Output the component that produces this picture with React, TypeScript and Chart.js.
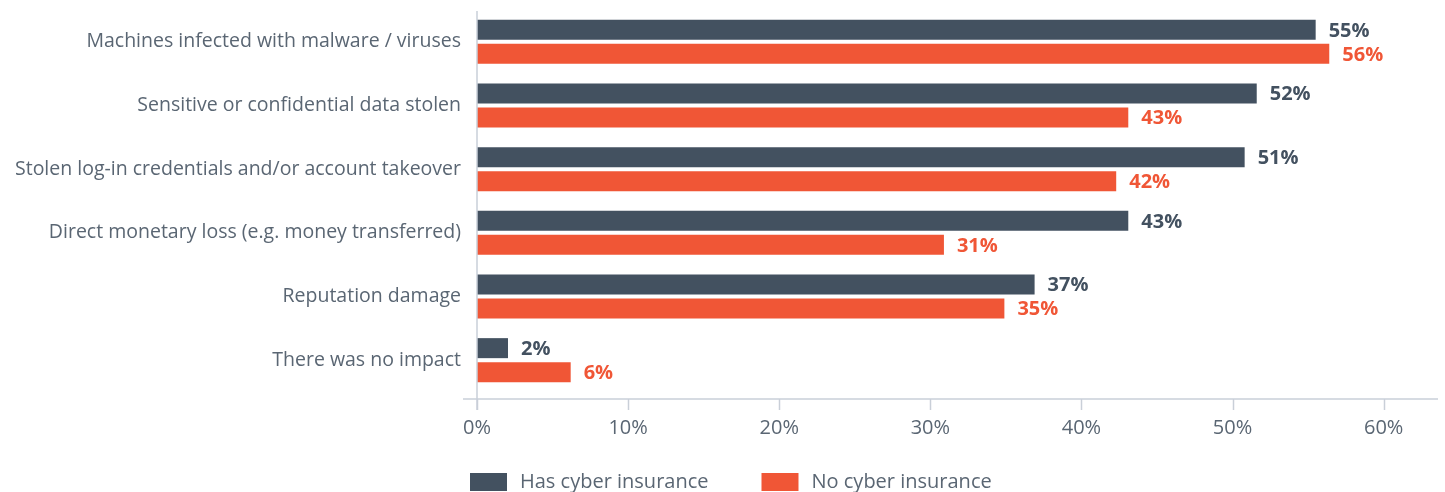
import React, { useEffect, useRef } from "react";
import { Chart, registerables } from "chart.js";

Chart.register(...registerables);

const categories = [
  "Machines infected with malware / viruses",
  "Sensitive or confidential data stolen",
  "Stolen log-in credentials and/or account takeover",
  "Direct monetary loss (e.g. money transferred)",
  "Reputation damage",
  "There was no impact",
];
const seriesNames = ["Has cyber insurance", "No cyber insurance"];
const hasInsurance = [55.5, 51.6, 50.8, 43.1, 36.9, 2.05];
const noInsurance = [56.4, 43.1, 42.3, 30.9, 34.9, 6.2];
const hasLabels = ["55%", "52%", "51%", "43%", "37%", "2%"];
const noLabels = ["56%", "43%", "42%", "31%", "35%", "6%"];
const xTicks = [0, 10, 20, 30, 40, 50, 60];

const DARK = "#435160";
const ORANGE = "#f05636";
const TEXT = "#5a6673";
const AXIS = "#c9cfd8";
const FONT = "'Open Sans', sans-serif";

const axesPlugin = {
  id: "customAxes",
  afterDraw(chart: any) {
    const { ctx, chartArea } = chart;
    const x = chart.scales.x;
    const axisY = chartArea.bottom + 7;
    ctx.save();
    ctx.strokeStyle = AXIS;
    ctx.lineWidth = 1.5;
    ctx.beginPath();
    ctx.moveTo(chartArea.left - 14, axisY);
    ctx.lineTo(chartArea.right + 9, axisY);
    ctx.stroke();
    ctx.beginPath();
    ctx.moveTo(chartArea.left, chartArea.top + 1);
    ctx.lineTo(chartArea.left, axisY + 11);
    ctx.stroke();
    xTicks.forEach((v) => {
      const px = Math.round(x.getPixelForValue(v)) + 0.5;
      ctx.beginPath();
      ctx.moveTo(px, axisY);
      ctx.lineTo(px, axisY + 11);
      ctx.stroke();
    });
    ctx.restore();
  },
};

const labelPlugin = {
  id: "barLabels",
  afterDatasetsDraw(chart: any) {
    const { ctx } = chart;
    const labelSets = [hasLabels, noLabels];
    const colors = [DARK, ORANGE];
    ctx.save();
    ctx.font = `bold 20px ${FONT}`;
    ctx.textBaseline = "middle";
    ctx.textAlign = "left";
    chart.data.datasets.forEach((ds: any, di: number) => {
      const meta = chart.getDatasetMeta(di);
      ctx.fillStyle = colors[di];
      meta.data.forEach((el: any, i: number) => {
        ctx.fillText(labelSets[di][i], el.x + 13, el.y + 1);
      });
    });
    ctx.restore();
  },
};

const legendPlugin = {
  id: "customLegend",
  afterDraw(chart: any) {
    const { ctx, chartArea } = chart;
    const startX = chartArea.left - 7;
    const cy = 482;
    ctx.save();
    ctx.font = `20px ${FONT}`;
    ctx.textBaseline = "middle";
    ctx.textAlign = "left";
    let x = startX;
    chart.data.datasets.forEach((ds: any) => {
      ctx.fillStyle = ds.backgroundColor;
      ctx.fillRect(x, cy - 9, 37, 18);
      ctx.fillStyle = TEXT;
      ctx.fillText(ds.label, x + 50, cy);
      const w = ctx.measureText(ds.label).width;
      x = x + 50 + w + 53;
    });
    ctx.restore();
  },
};

export default function App() {
  const ref = useRef<HTMLCanvasElement>(null);
  useEffect(() => {
    if (!ref.current) return;
    const chart = new Chart(ref.current, {
      type: "bar",
      data: {
        labels: categories,
        datasets: [
          {
            label: seriesNames[0],
            data: hasInsurance,
            backgroundColor: DARK,
            categoryPercentage: 0.755,
            barPercentage: 0.833,
          },
          {
            label: seriesNames[1],
            data: noInsurance,
            backgroundColor: ORANGE,
            categoryPercentage: 0.755,
            barPercentage: 0.833,
          },
        ],
      },
      options: {
        indexAxis: "y",
        responsive: false,
        animation: false,
        layout: { padding: { top: 10, right: 16, left: 0, bottom: 0 } },
        plugins: {
          legend: { display: false },
          tooltip: { enabled: false },
        },
        scales: {
          x: {
            min: 0,
            max: 63,
            grid: { display: false, drawTicks: false },
            border: { display: false },
            ticks: {
              stepSize: 10,
              includeBounds: false,
              padding: 24,
              color: TEXT,
              font: { family: FONT, size: 20 },
              callback: (v: any) => v + "%",
            },
            afterFit: (s: any) => {
              s.height = 100;
              s.paddingLeft = 0;
              s.paddingRight = 0;
            },
          },
          y: {
            grid: { display: false, drawTicks: false },
            border: { display: false },
            ticks: {
              padding: 16,
              color: TEXT,
              font: { family: FONT, size: 19.5 },
            },
            afterFit: (s: any) => {
              s.width = 477;
              s.paddingTop = 0;
              s.paddingBottom = 0;
            },
          },
        },
      },
      plugins: [axesPlugin, labelPlugin, legendPlugin],
    });
    return () => chart.destroy();
  }, []);
  return (
    <div style={{ position: "absolute", left: 0, top: 0, width: 1445, height: 492 }}>
      <canvas ref={ref} width={1445} height={492} />
    </div>
  );
}
